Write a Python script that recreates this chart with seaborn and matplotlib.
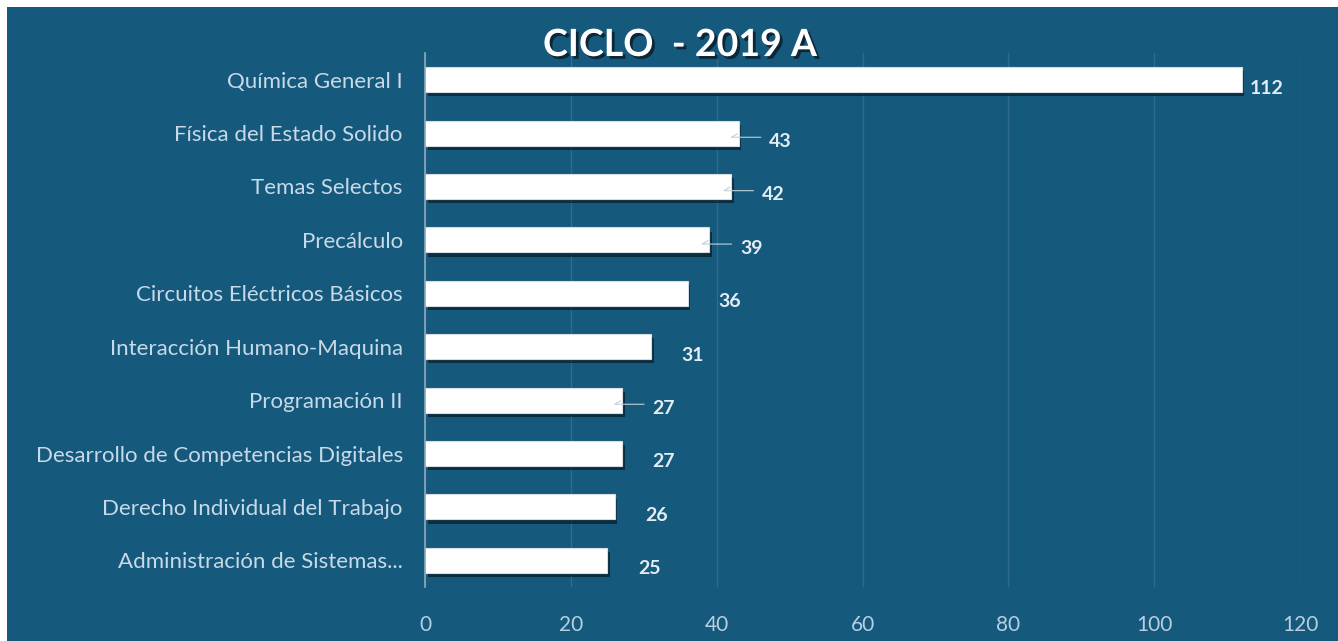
import matplotlib
matplotlib.use("Agg")
import matplotlib.pyplot as plt
import matplotlib.patheffects as pe
from matplotlib.patches import Rectangle
import seaborn as sns
import pandas as pd

# data
courses = [
    "Química General I",
    "Física del Estado Solido",
    "Temas Selectos",
    "Precálculo",
    "Circuitos Eléctricos Básicos",
    "Interacción Humano-Maquina",
    "Programación II",
    "Desarrollo de Competencias Digitales",
    "Derecho Individual del Trabajo",
    "Administración de Sistemas...",
]
students = [112, 43, 42, 39, 36, 31, 27, 27, 26, 25]
x_ticks = [0, 20, 40, 60, 80, 100, 120]
title = "CICLO  - 2019 A"

df = pd.DataFrame({"curso": courses, "alumnos": students})

# style
BG = "#15597d"
LABEL = "#c8d9e7"
sns.set_theme(style="white")
plt.rcParams["font.family"] = ["Lato", "DejaVu Sans"]

fig = plt.figure(figsize=(13.38, 6.41), dpi=100)
fig.patch.set_facecolor("white")
fig.add_artist(Rectangle((7 / 1338, 0), 1, 1 - 7 / 641, transform=fig.transFigure,
                         facecolor=BG, edgecolor="none", zorder=-10))

ax = fig.add_axes([425 / 1338, 1 - 587 / 641, 875 / 1338, 534 / 641])
ax.set_facecolor("none")

sns.barplot(data=df, x="alumnos", y="curso", orient="h", color="white",
            saturation=1, width=0.47, edgecolor="#d9dde2", linewidth=0.8, ax=ax)

for bar in ax.patches:
    bar.set_path_effects([
        pe.SimplePatchShadow(offset=(2, -3), shadow_rgbFace="#061c28", alpha=0.7),
        pe.Normal(),
    ])

ax.set_xlim(0, 120)
ax.set_xticks(x_ticks)
ax.xaxis.grid(True, color="#2f6c8f", linewidth=1)
ax.set_axisbelow(True)
for side in ["top", "right", "bottom"]:
    ax.spines[side].set_visible(False)
ax.spines["left"].set_color("#8eaabf")
ax.spines["left"].set_linewidth(1.2)

ax.tick_params(axis="x", length=0, pad=20, labelsize=15, labelcolor="#b9cee0")
ax.tick_params(axis="y", length=0, pad=16, labelsize=16, labelcolor=LABEL)
ax.set_xlabel("")
ax.set_ylabel("")

# value labels
leader_rows = [1, 2, 3, 6]
for i, v in enumerate(students):
    dx = 6 if v > 100 else 22
    ax.annotate(str(v), xy=(v, i), xytext=(dx, -6), textcoords="offset points",
                ha="left", va="center", fontsize=14, fontweight="bold", color="#e4edf4")
    if i in leader_rows:
        ax.annotate("", xy=(v, i), xytext=(16, -3), textcoords="offset points",
                    arrowprops=dict(arrowstyle="-", color="#c0d0dc", lw=0.8,
                                    connectionstyle="angle,angleA=0,angleB=30,rad=0",
                                    shrinkA=0, shrinkB=1))

fig.text(680 / 1338, 1 - 45 / 641, title, ha="center", va="center",
         fontsize=27, fontweight="bold", color="white",
         path_effects=[pe.withSimplePatchShadow(offset=(2, -2), shadow_rgbFace="#0b2230", alpha=0.9)])

fig.savefig("out.png", dpi=100, facecolor=fig.get_facecolor())
